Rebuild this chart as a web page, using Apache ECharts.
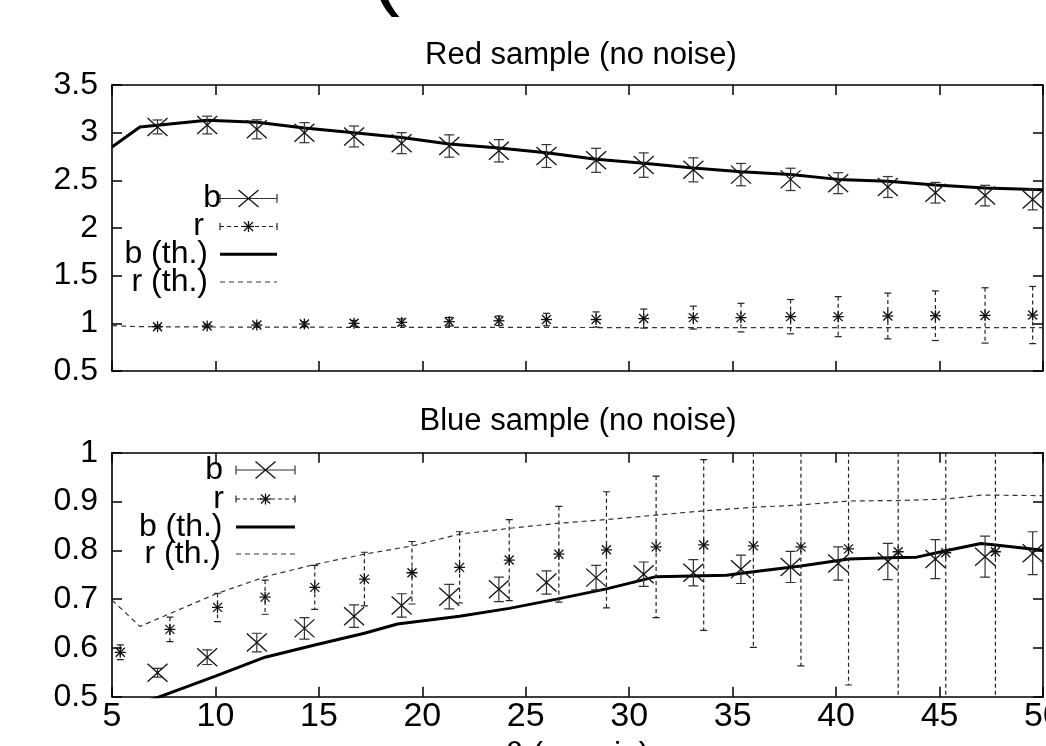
<!DOCTYPE html>
<html>
<head>
<meta charset="utf-8">
<script src="https://cdn.jsdelivr.net/npm/echarts@6/dist/echarts.min.js"></script>
<style>
  html, body { margin: 0; padding: 0; background: #fff; }
  #chart { width: 1046px; height: 746px; }
</style>
</head>
<body>
<div id="chart"></div>
<script>
// Angular bins (arcmin) of the measured points
const thetaBins = [7.2, 9.6, 12.0, 14.3, 16.7, 19.0, 21.3, 23.7, 26.0, 28.4, 30.7, 33.1, 35.4, 37.8, 40.1, 42.5, 44.8, 47.2, 49.5];

// Red sample: measured b and r with their errors
const redB    = [3.06, 3.08, 3.035, 3.00, 2.96, 2.89, 2.86, 2.81, 2.755, 2.71, 2.66, 2.61, 2.56, 2.51, 2.47, 2.43, 2.37, 2.34, 2.30];
const redBErr = [0.073, 0.093, 0.10, 0.105, 0.11, 0.11, 0.117, 0.117, 0.12, 0.126, 0.128, 0.126, 0.117, 0.117, 0.11, 0.11, 0.108, 0.108, 0.11];
const redR    = [0.965, 0.972, 0.982, 0.993, 1.0, 1.01, 1.017, 1.027, 1.04, 1.04, 1.05, 1.06, 1.06, 1.07, 1.07, 1.077, 1.08, 1.083, 1.087];
const redRErr = [0.015, 0.015, 0.02, 0.025, 0.03, 0.035, 0.045, 0.05, 0.065, 0.08, 0.10, 0.12, 0.15, 0.18, 0.21, 0.24, 0.26, 0.29, 0.30];

// Red sample: theory curves
const redThTheta = [5, 6.35, 9.6, 12.0, 14.3, 16.7, 19.0, 21.3, 23.7, 26.0, 28.4, 30.7, 33.1, 35.4, 37.8, 40.1, 42.5, 44.8, 47.2, 50];
const redBTh = [2.85, 3.06, 3.13, 3.11, 3.05, 3.00, 2.95, 2.88, 2.84, 2.79, 2.72, 2.68, 2.63, 2.59, 2.56, 2.51, 2.49, 2.45, 2.42, 2.40];
const redRTh = [0.975, 0.965, 0.962, 0.96, 0.96, 0.958, 0.958, 0.958, 0.957, 0.957, 0.956, 0.956, 0.955, 0.955, 0.955, 0.955, 0.955, 0.955, 0.955, 0.955];

// Blue sample: measured b (same bins) and r (shifted bins)
const blueB    = [0.549, 0.581, 0.611, 0.640, 0.665, 0.687, 0.705, 0.720, 0.734, 0.744, 0.751, 0.754, 0.761, 0.766, 0.773, 0.777, 0.782, 0.787, 0.794];
const blueBErr = [0.009, 0.015, 0.019, 0.022, 0.023, 0.024, 0.025, 0.025, 0.024, 0.025, 0.025, 0.027, 0.029, 0.032, 0.034, 0.037, 0.040, 0.042, 0.044];
const blueRTheta = [5.4, 7.8, 10.1, 12.4, 14.8, 17.2, 19.5, 21.8, 24.2, 26.6, 28.9, 31.3, 33.6, 36.0, 38.3, 40.6, 43.0, 45.3, 47.7];
const blueR    = [0.591, 0.638, 0.683, 0.704, 0.724, 0.741, 0.754, 0.765, 0.780, 0.792, 0.801, 0.807, 0.811, 0.809, 0.807, 0.803, 0.797, 0.795, 0.797];
const blueRErr = [0.015, 0.025, 0.029, 0.035, 0.045, 0.055, 0.064, 0.073, 0.083, 0.098, 0.119, 0.145, 0.175, 0.208, 0.244, 0.279, 0.32, 0.36, 0.40];

// Blue sample: theory curves
const blueRThTheta = [5, 6.35, 10.1, 12.5, 14.8, 17.2, 19.5, 21.8, 24.2, 26.5, 28.9, 31.3, 33.6, 36.0, 38.3, 40.6, 43.0, 45.3, 47.0, 47.7, 50];
const blueRTh = [0.698, 0.644, 0.712, 0.747, 0.771, 0.792, 0.809, 0.833, 0.845, 0.855, 0.863, 0.872, 0.881, 0.888, 0.893, 0.901, 0.902, 0.905, 0.913, 0.913, 0.912];
const blueBThTheta = [5, 6.35, 10.0, 12.4, 14.8, 17.2, 18.8, 21.8, 24.2, 26.5, 28.9, 31.3, 33.6, 34.7, 36.0, 38.3, 40.6, 43.0, 43.9, 45.3, 47.0, 47.7, 50];
const blueBTh = [0.45, 0.485, 0.542, 0.581, 0.606, 0.630, 0.649, 0.665, 0.681, 0.700, 0.721, 0.746, 0.748, 0.749, 0.756, 0.768, 0.782, 0.785, 0.786, 0.799, 0.814, 0.811, 0.800];

// Axis ranges and tick steps
const thetaRange = [5, 50], thetaStep = 5;
const redRange = [0.5, 3.5], redStep = 0.5;
const blueRange = [0.5, 1.0], blueStep = 0.1;

const FONT = '"Liberation Sans", Arial, Helvetica, sans-serif';
const pairs = (xs, ys) => xs.map((x, i) => [x, ys[i]]);
const triples = (xs, ys, es) => xs.map((x, i) => [x, ys[i], es[i]]);

// X-shaped point (b points)
function crossShape(cx, cy, hw, hh, stroke) {
  return [
    { type: 'line', shape: { x1: cx - hw, y1: cy - hh, x2: cx + hw, y2: cy + hh }, style: { stroke, lineWidth: 1.3 } },
    { type: 'line', shape: { x1: cx - hw, y1: cy + hh, x2: cx + hw, y2: cy - hh }, style: { stroke, lineWidth: 1.3 } }
  ];
}
// asterisk point (r points)
function starShape(cx, cy, s, stroke) {
  const st = { stroke, lineWidth: 1.3 };
  return [
    { type: 'line', shape: { x1: cx - s, y1: cy - s, x2: cx + s, y2: cy + s }, style: st },
    { type: 'line', shape: { x1: cx - s, y1: cy + s, x2: cx + s, y2: cy - s }, style: st },
    { type: 'line', shape: { x1: cx, y1: cy - s - 1, x2: cx, y2: cy + s + 1 }, style: st },
    { type: 'line', shape: { x1: cx - s - 1, y1: cy, x2: cx + s + 1, y2: cy }, style: st }
  ];
}

// Error bar + point, placed through the axis scales
function errorItem(kind) {
  return function (params, api) {
    const x = api.value(0), y = api.value(1), e = api.value(2);
    const c = api.coord([x, y]);
    const hi = api.coord([x, y + e]);
    const lo = api.coord([x, y - e]);
    const cs = params.coordSys;
    const yTop = cs.y, yBot = cs.y + cs.height;
    const isR = kind === 'r';
    const stroke = isR ? '#222' : '#333';
    const barStyle = { stroke, lineWidth: 1.2, lineDash: isR ? [4, 3] : null };
    const capW = isR ? 3.5 : 5;
    const children = [];
    children.push({ type: 'line', shape: { x1: c[0], y1: Math.max(hi[1], yTop), x2: c[0], y2: Math.min(lo[1], yBot) }, style: barStyle });
    if (hi[1] >= yTop) children.push({ type: 'line', shape: { x1: c[0] - capW, y1: hi[1], x2: c[0] + capW, y2: hi[1] }, style: { stroke, lineWidth: 1.2 } });
    if (lo[1] <= yBot) children.push({ type: 'line', shape: { x1: c[0] - capW, y1: lo[1], x2: c[0] + capW, y2: lo[1] }, style: { stroke, lineWidth: 1.2 } });
    if (isR) children.push(...starShape(c[0], c[1], 4.5, '#111'));
    else children.push(...crossShape(c[0], c[1], 10, 9, '#111'));
    return { type: 'group', children };
  };
}

// Key entries: text right-aligned, sample to its right
function keyRow(label, textRight, y, x0, x1, kind) {
  const els = [{
    type: 'text', x: textRight, y: y,
    style: { text: label, font: '32px ' + FONT, fill: '#000', align: 'right', verticalAlign: 'middle' }
  }];
  const mid = (x0 + x1) / 2;
  if (kind === 'b' || kind === 'r') {
    const isR = kind === 'r';
    const stroke = isR ? '#222' : '#333';
    els.push({ type: 'line', shape: { x1: x0, y1: y, x2: x1, y2: y }, style: { stroke, lineWidth: 1.2, lineDash: isR ? [4, 3] : null } });
    const ch = isR ? 3.5 : 4.5;
    els.push({ type: 'line', shape: { x1: x0, y1: y - ch, x2: x0, y2: y + ch }, style: { stroke, lineWidth: 1.2 } });
    els.push({ type: 'line', shape: { x1: x1, y1: y - ch, x2: x1, y2: y + ch }, style: { stroke, lineWidth: 1.2 } });
    if (isR) els.push(...starShape(mid, y, 4.5, '#111'));
    else els.push(...crossShape(mid, y, 10, 8.5, '#111'));
  } else if (kind === 'bth') {
    els.push({ type: 'line', shape: { x1: x0, y1: y, x2: x1, y2: y }, style: { stroke: '#000', lineWidth: 3 } });
  } else {
    els.push({ type: 'line', shape: { x1: x0, y1: y, x2: x1, y2: y }, style: { stroke: '#333', lineWidth: 1.2, lineDash: [5, 4] } });
  }
  return els;
}

const frameLine = { show: true, onZero: false, lineStyle: { color: '#000', width: 1.6 } };
const innerTick = { show: true, inside: true, length: 10, lineStyle: { color: '#000', width: 1.5 } };

function thetaAxis(gridIndex, position, labelled) {
  const ax = {
    type: 'value', gridIndex, position,
    min: thetaRange[0], max: thetaRange[1], interval: thetaStep,
    axisLine: frameLine, axisTick: innerTick, splitLine: { show: false },
    axisLabel: { show: false }
  };
  if (labelled) {
    ax.axisLabel = { show: true, color: '#000', fontSize: 34, fontFamily: FONT, margin: 3, hideOverlap: false };
    ax.name = 'θ (arcmin)';
    ax.nameLocation = 'middle';
    ax.nameGap = 42;
    ax.nameTextStyle = { color: '#000', fontSize: 32, fontFamily: FONT };
  }
  return ax;
}
function valueAxis(gridIndex, position, range, step, labelled) {
  return {
    type: 'value', gridIndex, position,
    min: range[0], max: range[1], interval: step,
    axisLine: frameLine, axisTick: innerTick, splitLine: { show: false },
    axisLabel: labelled ? { show: true, color: '#000', fontSize: 32, fontFamily: FONT, margin: 14 } : { show: false }
  };
}

const chart = echarts.init(document.getElementById('chart'), null, { renderer: 'canvas' });
chart.setOption({
  animation: false,
  backgroundColor: '#fff',
  grid: [
    { left: 112, top: 85, width: 931, height: 286, outerBoundsMode: 'none', containLabel: false },
    { left: 112, top: 452.7, width: 931, height: 244, outerBoundsMode: 'none', containLabel: false }
  ],
  xAxis: [
    thetaAxis(0, 'bottom', false),
    thetaAxis(0, 'top', false),
    thetaAxis(1, 'bottom', true),
    thetaAxis(1, 'top', false)
  ],
  yAxis: [
    valueAxis(0, 'left', redRange, redStep, true),
    valueAxis(0, 'right', redRange, redStep, false),
    valueAxis(1, 'left', blueRange, blueStep, true),
    valueAxis(1, 'right', blueRange, blueStep, false)
  ],
  graphic: [
    { type: 'text', x: 370, y: 18, style: { text: '(', font: '90px ' + FONT, fill: '#000', align: 'left', verticalAlign: 'bottom' } },
    { type: 'text', x: 581, y: 55, style: { text: 'Red sample (no noise)', font: '31px ' + FONT, fill: '#000', align: 'center', verticalAlign: 'middle' } },
    { type: 'text', x: 578, y: 421, style: { text: 'Blue sample (no noise)', font: '31px ' + FONT, fill: '#000', align: 'center', verticalAlign: 'middle' } },
    ...keyRow('b', 221, 198.5, 220, 277, 'b'),
    ...keyRow('r', 204, 226.5, 220, 277, 'r'),
    ...keyRow('b (th.)', 208, 254.3, 220, 277, 'bth'),
    ...keyRow('r (th.)', 208, 282, 220, 277, 'rth'),
    ...keyRow('b', 223, 470, 236, 295, 'b'),
    ...keyRow('r', 224, 499, 236, 295, 'r'),
    ...keyRow('b (th.)', 222.5, 527, 236, 295, 'bth'),
    ...keyRow('r (th.)', 221, 554, 236, 295, 'rth')
  ],
  series: [
    { name: 'b (th.)', type: 'line', xAxisIndex: 0, yAxisIndex: 0, data: pairs(redThTheta, redBTh), showSymbol: false, z: 2,
      lineStyle: { color: '#000', width: 3 } },
    { name: 'r (th.)', type: 'line', xAxisIndex: 0, yAxisIndex: 0, data: pairs(redThTheta, redRTh), showSymbol: false, z: 2,
      lineStyle: { color: '#333', width: 1.2, type: [5, 4] } },
    { name: 'b', type: 'custom', xAxisIndex: 0, yAxisIndex: 0, data: triples(thetaBins, redB, redBErr), renderItem: errorItem('b'), clip: true, z: 3,
      encode: { x: 0, y: 1 } },
    { name: 'r', type: 'custom', xAxisIndex: 0, yAxisIndex: 0, data: triples(thetaBins, redR, redRErr), renderItem: errorItem('r'), clip: true, z: 3,
      encode: { x: 0, y: 1 } },

    { name: 'b (th.)', type: 'line', xAxisIndex: 2, yAxisIndex: 2, data: pairs(blueBThTheta, blueBTh), showSymbol: false, z: 2,
      lineStyle: { color: '#000', width: 3 } },
    { name: 'r (th.)', type: 'line', xAxisIndex: 2, yAxisIndex: 2, data: pairs(blueRThTheta, blueRTh), showSymbol: false, z: 2,
      lineStyle: { color: '#333', width: 1.2, type: [5, 4] } },
    { name: 'b', type: 'custom', xAxisIndex: 2, yAxisIndex: 2, data: triples(thetaBins, blueB, blueBErr), renderItem: errorItem('b'), clip: true, z: 3,
      encode: { x: 0, y: 1 } },
    { name: 'r', type: 'custom', xAxisIndex: 2, yAxisIndex: 2, data: triples(blueRTheta, blueR, blueRErr), renderItem: errorItem('r'), clip: true, z: 3,
      encode: { x: 0, y: 1 } }
  ]
});
</script>
</body>
</html>
